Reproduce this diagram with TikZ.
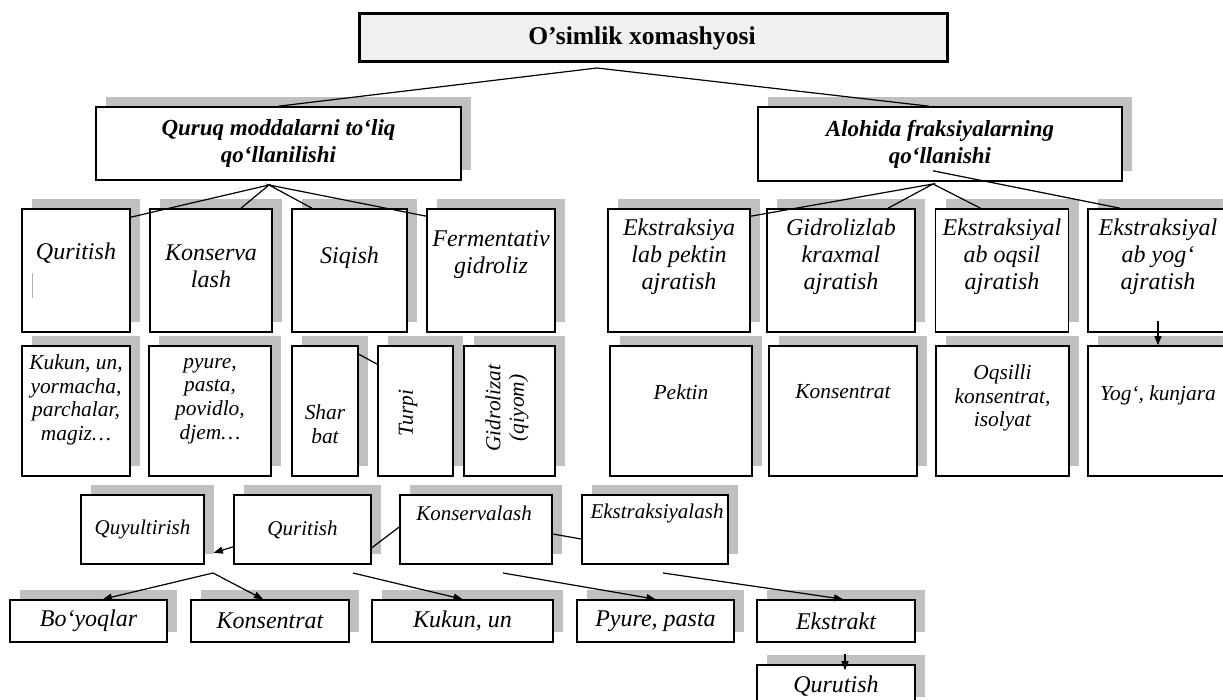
\documentclass[tikz,border=0pt]{standalone}
\usepackage{fontspec}
\setmainfont{Liberation Serif}
\usetikzlibrary{arrows.meta,calc,shadows}
\definecolor{shadowgrey}{HTML}{C0C0C0}
\definecolor{topgrey}{HTML}{F0F0F0}

\begin{document}
\begin{tikzpicture}[x=0.5pt,y=-0.5pt,
    wh/.style 2 args={minimum width=#1*0.5pt,minimum height=#2*0.5pt},
    box/.style={draw,line width=0.8pt,fill=white,inner sep=0pt,align=center,
        general shadow={fill=shadowgrey,shadow xshift=5pt,shadow yshift=5pt}},
    topbox/.style={draw,line width=1.5pt,fill=topgrey,inner sep=0pt},
    txt/.style={inner sep=0pt,align=center},
    ftop/.style={font=\fontsize{12.8}{15}\selectfont\bfseries},
    fmid/.style={font=\fontsize{11.5}{13.5}\selectfont\bfseries\itshape},
    frow/.style={font=\fontsize{12}{13.5}\selectfont\itshape},
    fsub/.style={font=\fontsize{10.7}{11.8}\selectfont\itshape},
    fstep/.style={font=\fontsize{10.5}{12}\selectfont\itshape},
    fout/.style={font=\fontsize{12}{14}\selectfont\itshape},
    link/.style={line width=0.6pt},
    arr/.style={line width=0.6pt,-{Triangle[length=4.5pt,width=3.5pt]}}]
    \useasboundingbox (0,0) rectangle (1223,700);
    \clip (0,0) rectangle (1223,700);

    % top levels
    \node[topbox,wh={588}{48},ftop] (root) at (653,38) {O’simlik xomashyosi\kern11pt};
    \node[box,wh={365}{73},fmid] (whole) at (278.5,143.5) {Quruq moddalarni to‘liq\\qo‘llanilishi};
    \node[box,wh={364}{74},fmid] (part) at (940,144) {Alohida fraksiyalarning\\qo‘llanishi};

    % processing methods
    \foreach \n/\x/\w/\ty/\lab in {m1/76/108/253/Quritish, m2/211/122/266/{Konserva\\lash},
        m3/349.5/115/258/Siqish, m4/491/128/255/{Fermentativ\\gidroliz},
        m5/679/142/257/{Ekstraksiya\\lab pektin\\ajratish}, m6/841/148/257/{Gidrolizlab\\kraxmal\\ajratish},
        m7/1002/133/257/{Ekstraksiyal\\ab oqsil\\ajratish}, m8/1158/140/257/{Ekstraksiyal\\ab yog‘\\ajratish}}{
        \node[box,wh={\w}{123}] (\n) at (\x,270.5) {};
        \node[txt,frow] (\n-t) at (\x,\ty) {\lab};
    }
    \draw[gray!60,line width=0.4pt] (32,273) -- (32,298);

    % products
    \foreach \n/\x/\w/\ty/\lab in {p1/76/108/400/{Kukun, un,\\yormacha,\\parchalar,\\magiz…},
        p2/210/122/401/{pyure,\\pasta,\\povidlo,\\djem…}, p3/325/66/424/{Shar\\bat},
        p6/681/142/392/Pektin, p7/843/148/392/Konsentrat,
        p8/1002.5/133/398/{Oqsilli\\konsentrat,\\isolyat}, p9/1158/140/395/{Yog‘, kunjara}}{
        \node[box,wh={\w}{130}] (\n) at (\x,411) {};
        \node[txt,fsub] (\n-t) at (\x,\ty) {\lab};
    }
    \node[box,wh={75}{130}] (p4) at (415.5,411) {};
    \node[txt,fsub,rotate=90] (p4-t) at (408,413) {Turpi};
    \node[box,wh={91}{130}] (p5) at (509.5,411) {};
    \node[txt,fsub,rotate=90] (p5-t) at (507,408) {Gidrolizat\\(qiyom)};

    % further steps
    \node[box,wh={123}{69},fstep] (s1) at (142.5,529.5) {Quyultirish};
    \node[box,wh={137}{69},fstep] (s2) at (302.5,529.5) {Quritish};
    \node[box,wh={152}{69}] (s3) at (476,529.5) {};
    \node[txt,fstep] (s3-t) at (474,513) {Konservalash};
    \node[box,wh={146}{69}] (s4) at (655,529.5) {};
    \node[txt,fstep] (s4-t) at (657,513) {Ekstraksiyalash};

    % final products
    \node[box,wh={157}{42},fout] (r1) at (88.5,621) {Bo‘yoqlar};
    \node[box,wh={158}{42},fout] (r2) at (270,621) {Konsentrat};
    \node[box,wh={181}{42},fout] (r3) at (462.5,621) {Kukun, un};
    \node[box,wh={157}{42},fout] (r4) at (655.5,621) {Pyure, pasta};
    \node[box,wh={158}{42},fout] (r5) at (836,621) {Ekstrakt};
    \node[box,wh={158}{42},fout] (r6) at (836,686) {Qurutish};

    \coordinate (j0) at (597,68);
    \coordinate (j1) at (269,185);
    \coordinate (j2) at (933,184);
    \coordinate (j3) at (213,573);
    \coordinate (j4) at (353,573);
    \coordinate (j5) at (503,573);
    \coordinate (j6) at (663,573);

    \draw[link] (whole.north) -- (j0) -- ($(part.north)+(-11,0)$);
    \draw[link] ($(m1.north east)+(0,9)$) -- (j1) -- ($(m2.north)+(30,0)$);
    \draw[link] ($(m3.north)+(-37.5,0)$) -- (j1) -- ($(m4.north west)+(0,8)$);
    \draw[link] ($(m5.north east)+(0,8)$) -- (j2) -- ($(m6.north)+(47,0)$);
    \draw[link] (j2) -- ($(m7.north)+(-21.5,0)$);
    \draw[link] ($(part.south)+(-7,-11)$) -- ($(m8.north)+(-38,0)$);
    \draw[arr] ($(m8.south)+(0,-12)$) -- (p9.north);
    \draw[link] ($(p3.north east)+(0,9)$) -- ($(p4.north west)+(0,19)$);

    \draw[arr] ($(s2.south west)+(0,-18)$) -- ($(s1.south east)+(9,-12)$);
    \draw[link] ($(s2.south east)+(0,-17)$) -- ($(s3.west)+(0,-2.5)$);
    \draw[link] ($(s3.east)+(0,4.5)$) -- ($(s4.west)+(0,9.5)$);
    \draw[arr] (j3) -- ($(r1.north)+(14.5,0)$);
    \draw[arr] (j3) -- ($(r2.north)+(-7,0)$);
    \draw[arr] (j4) -- (r3.north);
    \draw[arr] (j5) -- (r4.north);
    \draw[arr] (j6) -- ($(r5.north)+(7,0)$);
    \draw[arr] ($(r5.south)+(9,11)$) -- ($(r6.north)+(9,6)$);
\end{tikzpicture}
\end{document}
